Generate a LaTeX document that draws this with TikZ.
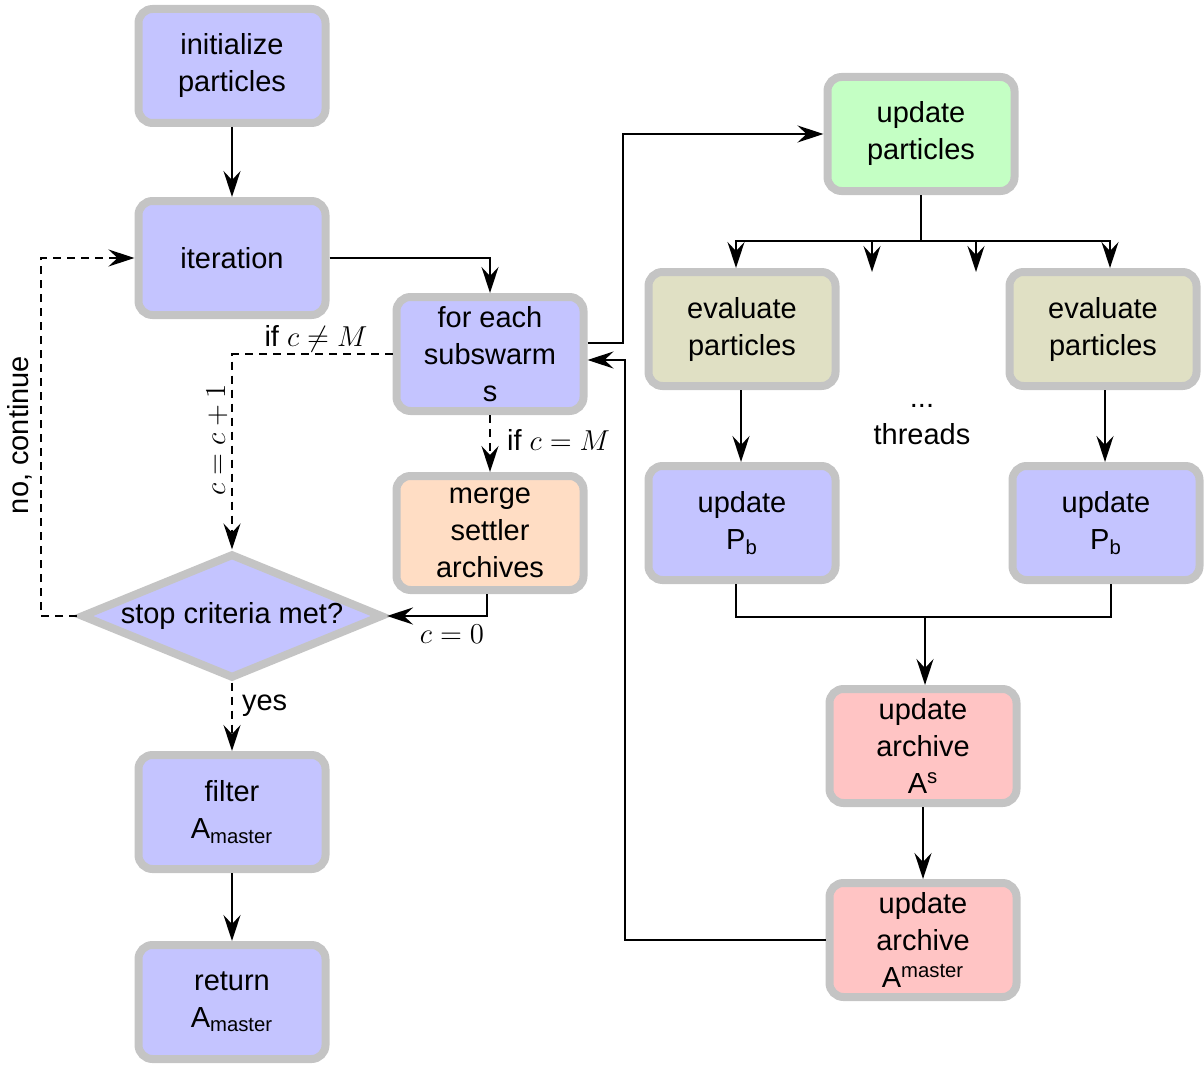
\documentclass[tikz,border=0pt]{standalone}
\usepackage[no-math]{fontspec}
\setmainfont{Liberation Sans}
\usetikzlibrary{arrows.meta,shapes.geometric}
\definecolor{boxblue}{HTML}{C4C4FF}
\definecolor{boxgreen}{HTML}{C4FFC4}
\definecolor{boxolive}{HTML}{E0E0C4}
\definecolor{boxpeach}{HTML}{FFDDC4}
\definecolor{boxpink}{HTML}{FFC4C4}
\definecolor{boxborder}{HTML}{C4C4C4}
\begin{document}
\begin{tikzpicture}[x=0.5pt,y=-0.5pt,
  every node/.style={font=\fontsize{14.5}{18.5}\selectfont},
  box/.style={draw=boxborder, line width=4pt, rounded corners=7pt, minimum width=93.5pt, minimum height=57pt, align=center, inner sep=1pt, fill=boxblue},
  dia/.style={diamond, draw=boxborder, line width=4pt, fill=boxblue, aspect=2.4, inner sep=0pt, minimum width=151pt, minimum height=62.5pt},
  conn/.style={line width=1pt, -{Stealth[length=13pt,width=8.5pt,inset=4.5pt]}},
  plain/.style={line width=1pt},
  dsh/.style={dash pattern=on 4pt off 3pt}]
\useasboundingbox (0,0) rectangle (1204,1065);

% left column
\node[box] (init) at (232,66) {initialize\\particles};
\node[box] (iter) at (232,258) {iteration};
\node[box] (fe) at (490,354) {for each\\subswarm\\s};
\node[box, fill=boxpeach] (merge) at (490,533) {merge\\settler\\archives};
\node[dia] (dia) at (232,616) {stop criteria met?};
\node[box] (filter) at (232,812) {filter\\A\textsubscript{master}};
\node[box] (ret) at (232,1002) {return\\A\textsubscript{master}};

% right part
\node[box, fill=boxgreen] (up) at (921,134) {update\\particles};
\node[box, fill=boxolive] (evl) at (742,329) {evaluate\\particles};
\node[box, fill=boxolive] (evr) at (1103,329) {evaluate\\particles};
\node[align=center] (thr) at (922,425) {...\\threads};
\node[box] (pbl) at (742,523) {update\\P\textsubscript{b}};
\node[box] (pbr) at (1106,523) {update\\P\textsubscript{b}};
\node[box, fill=boxpink] (as) at (923,746) {update\\archive\\A\textsuperscript{s}};
\node[box, fill=boxpink] (am) at (923,940) {update\\archive\\A\textsuperscript{master}};

% connectors left
\draw[conn] (init) -- (iter);
\draw[conn] (iter.east) -| (fe.north);
\draw[conn] ([yshift=5.5pt]fe.east) -- ++(35,0) |- (up.west);
\draw[conn] (am.west) -- ++(-201,0) |- ([yshift=-3pt]fe.east);
\draw[conn,dsh] (fe.south) -- (merge.north);
\node[anchor=west] (lblcm) at (500,440) {if $c=M$};
\draw[conn,dsh] (fe.west) -| (dia.north);
\node (lblne) at (316,339) {if $c\neq M$};
\node[rotate=90] (lblinc) at (217,440) {$c=c+1$};
\draw[conn] ([xshift=-1.5pt]merge.south) |- (dia.east);
\node (lblz) at (452,634) {$c=0$};
\draw[conn,dsh] (dia.west) -- ++(-36,0) |- (iter.west);
\node[rotate=90] (lblno) at (20,435) {no, continue};
\draw[conn,dsh] (dia.south) -- (filter.north);
\node[anchor=west] (lblyes) at (235,706) {yes};
\draw[conn] (filter) -- (ret);

% connectors right
\coordinate (split) at (921,241);
\coordinate (t1) at (872,272);
\coordinate (t2) at (976,272);
\draw[plain] (up.south) -- (split);
\draw[conn] (split) -| ([xshift=-3pt]evl.north);
\draw[conn] (split) -| ([xshift=3.5pt]evr.north);
\draw[conn] (split) -| (t1);
\draw[conn] (split) -| (t2);
\draw[conn] ([xshift=-0.5pt]evl.south) -- ([xshift=-0.5pt]evl.south |- pbl.north);
\draw[conn] ([xshift=1pt]evr.south) -- ([xshift=1pt]evr.south |- pbr.north);
\coordinate (join) at (925,617);
\draw[plain] ([xshift=-3pt]pbl.south) |- (join);
\draw[plain] ([xshift=2.5pt]pbr.south) |- (join);
\draw[conn] (join) -- (join |- as.north);
\draw[conn] (as) -- (am);
\end{tikzpicture}
\end{document}
